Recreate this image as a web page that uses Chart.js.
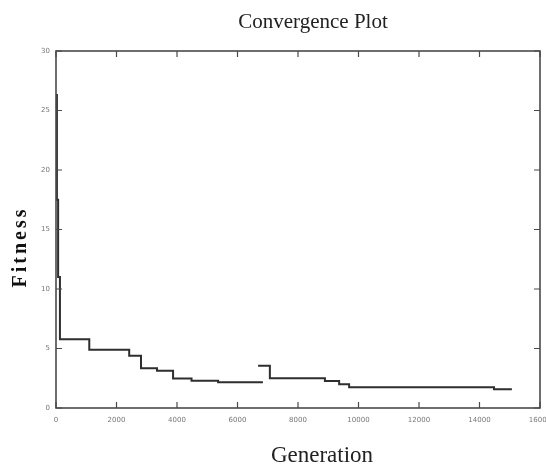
<!DOCTYPE html>
<html>
<head>
<meta charset="utf-8">
<script src="https://cdn.jsdelivr.net/npm/chart.js@4/dist/chart.umd.min.js"></script>
<style>
  html, body { margin: 0; padding: 0; background: #fff; }
  #wrap { width: 546px; height: 472px; }
</style>
</head>
<body>
<div id="wrap"><canvas id="plot" width="546" height="472"></canvas></div>
<script>
// first run of the optimiser (generation, best fitness)
const genA = [0, 30, 70, 130, 1100, 2420, 2810, 3340, 3870, 4480, 5360, 6840];
const fitA = [26.3, 17.5, 11.0, 5.77, 4.9, 4.4, 3.33, 3.13, 2.47, 2.3, 2.16, 2.16];
// second segment after restart
const genB = [6680, 7070, 8890, 9360, 9690, 14480, 15070];
const fitB = [3.55, 2.5, 2.27, 2.0, 1.74, 1.57, 1.57];

const xTicks = [0, 2000, 4000, 6000, 8000, 10000, 12000, 14000, 16000];
const yTicks = [0, 5, 10, 15, 20, 25, 30];

const toPoints = (xs, ys) => xs.map((x, i) => ({ x: x, y: ys[i] }));

// frame, inward ticks and the serif titles
const decorations = {
    id: 'decorations',
    afterDraw(chart) {
        const ctx = chart.ctx;
        const a = chart.chartArea;
        const xs = chart.scales.x, ys = chart.scales.y;
        ctx.save();
        ctx.strokeStyle = '#4a4a4a';
        ctx.lineWidth = 1.6;
        ctx.strokeRect(a.left, a.top, a.right - a.left, a.bottom - a.top);
        ctx.lineWidth = 1.2;
        ctx.beginPath();
        xTicks.forEach(v => {
            const px = xs.getPixelForValue(v);
            ctx.moveTo(px, a.bottom); ctx.lineTo(px, a.bottom - 6);
            ctx.moveTo(px, a.top); ctx.lineTo(px, a.top + 6);
        });
        yTicks.forEach(v => {
            const py = ys.getPixelForValue(v);
            ctx.moveTo(a.left, py); ctx.lineTo(a.left + 6, py);
            ctx.moveTo(a.right, py); ctx.lineTo(a.right - 6, py);
        });
        ctx.stroke();

        ctx.fillStyle = '#222';
        ctx.textAlign = 'center';
        ctx.textBaseline = 'middle';
        ctx.font = '21px "Liberation Serif", "DejaVu Serif", serif';
        ctx.fillText('Convergence Plot', 313, 22);
        ctx.font = '23px "Liberation Serif", "DejaVu Serif", serif';
        ctx.fillText('Generation', 322, 456);

        ctx.translate(21, 247);
        ctx.rotate(-Math.PI / 2);
        ctx.font = 'bold 20px "Liberation Serif", "DejaVu Serif", serif';
        ctx.letterSpacing = '3px';
        ctx.fillStyle = '#111';
        ctx.fillText('Fitness', 0, 0);
        ctx.restore();
    }
};

new Chart(document.getElementById('plot'), {
    type: 'line',
    data: {
        datasets: [{
            data: toPoints(genA, fitA),
            borderColor: '#2e2e2e',
            borderWidth: 2,
            stepped: 'before',
            pointRadius: 0,
            fill: false
        }, {
            data: toPoints(genB, fitB),
            borderColor: '#2e2e2e',
            borderWidth: 2,
            stepped: 'before',
            pointRadius: 0,
            fill: false
        }]
    },
    options: {
        responsive: false,
        animation: false,
        events: [],
        layout: { padding: { left: 0, right: 6, top: 51, bottom: 0 } },
        plugins: {
            legend: { display: false },
            tooltip: { enabled: false }
        },
        scales: {
            x: {
                type: 'linear',
                min: 0,
                max: 16000,
                afterFit: s => { s.height = 64; s.paddingLeft = 0; s.paddingRight = 0; },
                afterBuildTicks: s => { s.ticks = xTicks.map(v => ({ value: v })); },
                grid: { display: false, drawTicks: false },
                border: { display: false },
                ticks: {
                    padding: 8,
                    maxRotation: 0,
                    autoSkip: false,
                    color: '#777',
                    font: { size: 7, family: 'DejaVu Sans' },
                    callback: v => String(v)
                }
            },
            y: {
                type: 'linear',
                min: 0,
                max: 30,
                afterFit: s => { s.width = 56; s.paddingTop = 0; s.paddingBottom = 0; },
                afterBuildTicks: s => { s.ticks = yTicks.map(v => ({ value: v })); },
                grid: { display: false, drawTicks: false },
                border: { display: false },
                ticks: {
                    padding: 6,
                    color: '#777',
                    font: { size: 7, family: 'DejaVu Sans' },
                    callback: v => String(v)
                }
            }
        }
    },
    plugins: [decorations]
});
</script>
</body>
</html>
